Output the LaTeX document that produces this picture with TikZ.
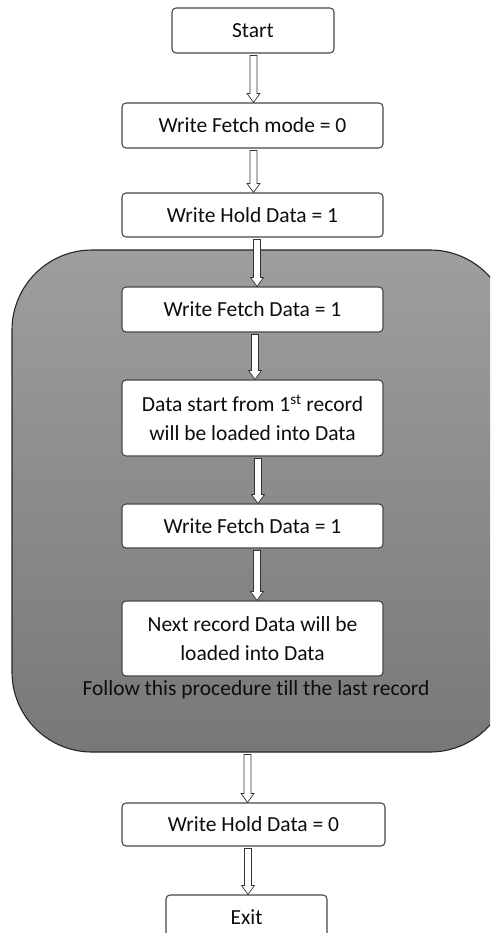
\documentclass[tikz,border=0pt]{standalone}
\usepackage{fontspec}
\setmainfont[Ligatures=NoCommon]{Carlito}
\usetikzlibrary{calc}
\begin{document}
\begin{tikzpicture}[x=1pt,y=-1pt,
  box/.style={draw=black!72, line width=1.1pt, fill=white, rounded corners=4pt,
    text=black!95, font=\fontsize{21.5}{29}\selectfont, align=center, inner sep=0pt,
    minimum width=261pt},
  lbl/.style={text=black!95, font=\fontsize{21.5}{29}\selectfont, inner sep=0pt},
  loopbox/.style={draw=black!85, line width=1.1pt, rounded corners=80pt,
    top color=black!38, bottom color=black!53, inner sep=0pt},
  harrow/.style={draw=black!80, line width=0.7pt, fill=white,
    to path={let \p1=(\tikztostart), \p2=(\tikztotarget) in
      (\x1-3.5pt,\y1) -- (\x1+3.5pt,\y1) -- (\x1+3.5pt,\y2+9pt) -- (\x1+6.5pt,\y2+9pt)
      -- (\x1,\y2) -- (\x1-6.5pt,\y2+9pt) -- (\x1-3.5pt,\y2+9pt) -- cycle}}]
\useasboundingbox (0,0) rectangle (490,933);
\clip (0,0) rectangle (490,933);
\fill[white] (0,0) rectangle (490,933);

% big loop container
\node[loopbox, minimum width=498pt, minimum height=502pt] (loop) at (261,501) {};

% boxes
\node[box, minimum width=162pt, minimum height=45pt] (start) at (253,30.5) {Start};
\node[box, minimum height=45pt] (fm0) at (252.5,125.5) {Write Fetch mode = 0};
\node[box, minimum height=44pt] (hd1) at (252.5,215) {Write Hold Data = 1};
\node[box, minimum height=45pt] (fd1a) at (252.5,309.5) {Write Fetch Data = 1};
\node[box, minimum height=76pt] (ds) at (252.5,418) {Data start from 1\textsuperscript{st} record\\will be loaded into Data};
\node[box, minimum height=44pt] (fd1b) at (252.5,526) {Write Fetch Data = 1};
\node[box, minimum height=75pt] (nr) at (252.5,638.5) {Next record Data will be\\loaded into Data};
\node[lbl] (follow) at (256,690) {Follow this procedure till the last record};
\node[box, minimum width=263pt, minimum height=43pt] (hd0) at (253.5,824.5) {Write Hold Data = 0};
\node[box, minimum width=161pt, minimum height=44pt] (exit) at (246.5,917) {Exit};

% hollow arrows
\draw[harrow] ([xshift=0.5pt,yshift=-2pt]start.south) to (fm0.north);
\draw[harrow] ([xshift=1pt,yshift=-2pt]fm0.south) to (hd1.north);
\draw[harrow] ([xshift=4.5pt,yshift=-2pt]hd1.south) to (fd1a.north);
\draw[harrow] ([xshift=2.5pt,yshift=-2pt]fd1a.south) to (ds.north);
\draw[harrow] ([xshift=5.5pt,yshift=-2pt]ds.south) to (fd1b.north);
\draw[harrow] ([xshift=4.5pt,yshift=-2pt]fd1b.south) to (nr.north);
\draw[harrow] ([xshift=-13.5pt,yshift=-2pt]loop.south) to (hd0.north);
\draw[harrow] ([xshift=-5.5pt,yshift=-2pt]hd0.south) to (exit.north);
\end{tikzpicture}
\end{document}
